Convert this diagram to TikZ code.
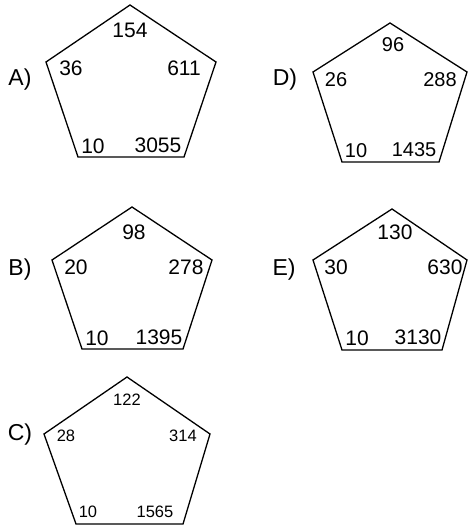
\documentclass[tikz,border=0pt]{standalone}
\usepackage{fontspec}
\setmainfont{Liberation Sans}
\tikzset{
  pent/.style={line width=1.3pt, line join=miter},
  num/.style={font=\fontsize{21}{21}\selectfont, inner sep=0pt},
  midnum/.style={font=\fontsize{20}{20}\selectfont, inner sep=0pt},
  smallnum/.style={font=\fontsize{16.5}{16.5}\selectfont, inner sep=0pt},
  choice/.style={font=\fontsize{23}{23}\selectfont, inner sep=0pt}
}
\begin{document}
\begin{tikzpicture}[x=1pt, y=-1pt]
    \useasboundingbox (0,0) rectangle (468,526);

    % Pentagon A
    \draw[pent] (130,5) -- (216,62) -- (184,157) -- (78,157) -- (46,62) -- cycle;
    \node[choice] (labA) at (20,80) {A)};
    \node[num] (a1) at (130,30) {154};
    \node[num] (a2) at (71,68) {36};
    \node[num] (a3) at (184,68) {611};
    \node[num] (a4) at (93,146) {10};
    \node[num] (a5) at (158,145) {3055};

    % Pentagon D
    \draw[pent] (390,23) -- (467,72) -- (439,162) -- (342,162) -- (313,72) -- cycle;
    \node[choice] (labD) at (285,80) {D)};
    \node[midnum] (d1) at (393,45) {96};
    \node[midnum] (d2) at (336,80) {26};
    \node[midnum] (d3) at (440,80) {288};
    \node[midnum] (d4) at (356,151) {10};
    \node[midnum] (d5) at (414,150) {1435};

    % Pentagon B
    \draw[pent] (132,207) -- (212,260) -- (183,349) -- (82,349) -- (52,260) -- cycle;
    \node[choice] (labB) at (20,270) {B)};
    \node[num] (b1) at (134,232) {98};
    \node[num] (b2) at (76,267) {20};
    \node[num] (b3) at (186,267) {278};
    \node[num] (b4) at (97,338) {10};
    \node[num] (b5) at (159,337) {1395};

    % Pentagon E
    \draw[pent] (392,209) -- (467,260) -- (442,350) -- (342,350) -- (313,260) -- cycle;
    \node[choice] (labE) at (284,270) {E)};
    \node[num] (e1) at (395,232) {130};
    \node[num] (e2) at (336,267) {30};
    \node[num] (e3) at (445,267) {630};
    \node[num] (e4) at (357,338) {10};
    \node[num] (e5) at (418,337) {3130};

    % Pentagon C
    \draw[pent] (127,377) -- (210,434) -- (183,524) -- (76,524) -- (44,434) -- cycle;
    \node[choice] (labC) at (20,435) {C)};
    \node[smallnum] (c1) at (127,400) {122};
    \node[smallnum] (c2) at (66,436) {28};
    \node[smallnum] (c3) at (183,436) {314};
    \node[smallnum] (c4) at (88,512) {10};
    \node[smallnum] (c5) at (155,512) {1565};
\end{tikzpicture}
\end{document}
